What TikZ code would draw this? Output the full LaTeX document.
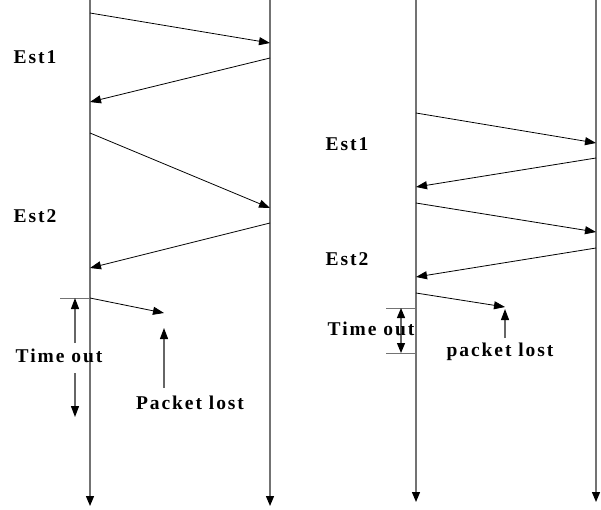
\documentclass[tikz,border=0pt]{standalone}
\usepackage{fontspec}
\setmainfont{Liberation Serif}
\newfontfamily\tagfont[LetterSpace=10]{Liberation Serif}
\usetikzlibrary{arrows.meta, positioning}

\begin{document}
\begin{tikzpicture}[
    x=1pt, y=-1pt,
    timeline/.style={draw=black!55, line width=1.3pt, -{Triangle[length=10pt, width=8pt, color=black]}},
    msg/.style={draw=black, line width=0.8pt, -{Triangle[length=11pt, width=8pt]}},
    gauge/.style={draw=black!60, line width=1.2pt, -{Triangle[length=11pt, width=8pt, color=black]}},
    tick/.style={draw=black!55, line width=1pt},
    esttag/.style={font=\tagfont\bfseries\fontsize{19.5}{22}\selectfont, inner sep=0pt}
]
\useasboundingbox (0,0) rectangle (601,509);

% left diagram: timelines
\coordinate (A-top) at (90,0);
\coordinate (A-bot) at (90,506);
\coordinate (B-top) at (270,0);
\coordinate (B-bot) at (270,506);
\draw[timeline] (A-top) -- (A-bot);
\draw[timeline] (B-top) -- (B-bot);

% left diagram: segments and acks
\coordinate (a1) at (90,13);  \coordinate (b1) at (270,43);
\coordinate (b2) at (270,58); \coordinate (a2) at (90,102);
\coordinate (a3) at (90,133); \coordinate (b3) at (270,208);
\coordinate (b4) at (270,223);\coordinate (a4) at (90,268);
\draw[msg] (a1) -- (b1);
\draw[msg] (b2) -- (a2);
\draw[msg] (a3) -- (b3);
\draw[msg] (b4) -- (a4);

\node[esttag] (est1-left) at (35,57) {Est1};
\node[esttag] (est2-left) at (35,216) {Est2};

% left diagram: lost segment
\coordinate (a5) at (90,298);
\coordinate (lost-left) at (164,313);
\coordinate (tick-left) at (60,298);
\draw[tick] (tick-left) -- (a5);
\draw[msg] (a5) -- (lost-left);

\node[esttag] (timeout-left) at (59,356) {Time out};
\node[esttag] (packet-left) at (190,403) {Packet lost};
\coordinate (to-up) at (75,298);
\coordinate (to-down) at (75,417);
\draw[gauge] (75,343) -- (to-up);
\draw[gauge] (75,373) -- (to-down);
\draw[gauge] (164,388) -- (164,328);

% right diagram: timelines
\coordinate (C-top) at (416,0);
\coordinate (C-bot) at (416,502);
\coordinate (D-top) at (596,0);
\coordinate (D-bot) at (596,502);
\draw[timeline] (C-top) -- (C-bot);
\draw[timeline] (D-top) -- (D-bot);

% right diagram: segments and acks
\coordinate (c1) at (416,113); \coordinate (d1) at (596,143);
\coordinate (d2) at (596,158); \coordinate (c2) at (416,187);
\coordinate (c3) at (416,203); \coordinate (d3) at (596,232);
\coordinate (d4) at (596,248); \coordinate (c4) at (416,277);
\draw[msg] (c1) -- (d1);
\draw[msg] (d2) -- (c2);
\draw[msg] (c3) -- (d3);
\draw[msg] (d4) -- (c4);

\node[esttag] (est1-right) at (347,144) {Est1};
\node[esttag] (est2-right) at (347,259) {Est2};

% right diagram: lost segment
\coordinate (c5) at (416,293);
\coordinate (lost-right) at (505,307);
\draw[msg] (c5) -- (lost-right);
\coordinate (tick1) at (386,308); \coordinate (tick1-end) at (416,308);
\coordinate (tick2) at (386,353); \coordinate (tick2-end) at (416,353);
\draw[tick] (tick1) -- (tick1-end);
\draw[tick] (tick2) -- (tick2-end);
\draw[gauge, {Triangle[length=10pt, width=8pt, color=black]}-{Triangle[length=10pt, width=8pt, color=black]}] (401,308) -- (401,353);
\draw[gauge] (505,338) -- (505,309);

\node[esttag] (timeout-right) at (371,329) {Time out};
\node[esttag] (packet-right) at (500,352) {packet lost};
\end{tikzpicture}
\end{document}
